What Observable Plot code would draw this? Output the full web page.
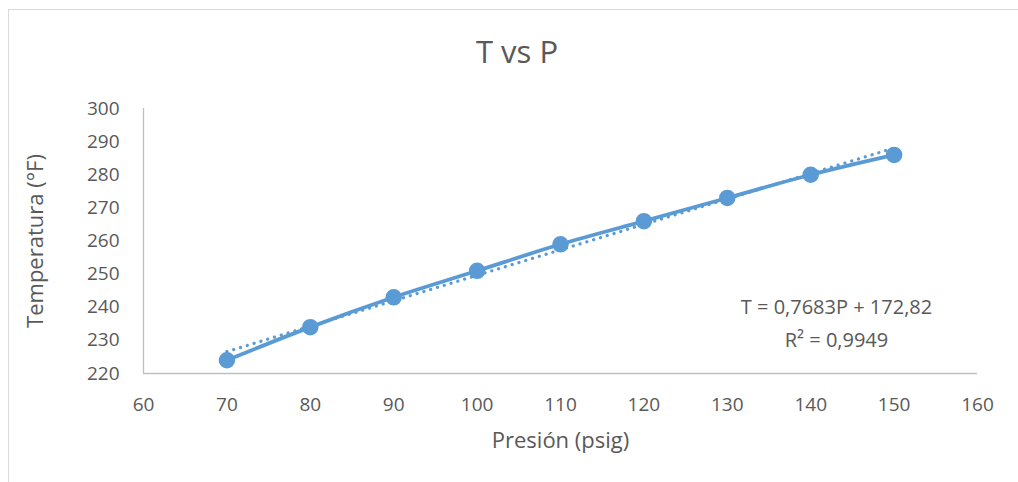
<!DOCTYPE html>
<html>
<head>
<meta charset="utf-8">
<script src="https://cdn.jsdelivr.net/npm/d3@7"></script>
<script src="https://cdn.jsdelivr.net/npm/@observablehq/plot@0.6"></script>
<style>
  html, body { margin: 0; padding: 0; background: #fff; }
  #wrap { position: relative; width: 1018px; height: 482px; overflow: hidden; font-family: "Open Sans", sans-serif; }
  #frame { position: absolute; left: 8px; top: 9px; width: 1030px; height: 500px; border: 1px solid #d9d9d9; box-sizing: border-box; }
  #title { position: absolute; left: 0; width: 1034px; top: 36px; line-height: 31px; text-align: center; font-size: 31px; color: #595959; }
  svg { position: absolute; left: 0; top: 0; }
</style>
</head>
<body>
<div id="wrap">
  <div id="frame"></div>
  <div id="title">T vs P</div>
</div>
<script>
const presion = [70, 80, 90, 100, 110, 120, 130, 140, 150];
const temperatura = [224, 234, 243, 251, 259, 266, 273, 280, 286];
const xTicks = [60, 70, 80, 90, 100, 110, 120, 130, 140, 150, 160];
const yTicks = [220, 230, 240, 250, 260, 270, 280, 290, 300];
const equationLines = ["T = 0,7683P + 172,82", "R² = 0,9949"];

const data = presion.map((p, i) => ({P: p, T: temperatura[i]}));
const color = "#5b9bd5";
const grey = "#595959";

const chart = Plot.plot({
  width: 1018,
  height: 482,
  marginLeft: 143,
  marginRight: 41,
  marginTop: 108,
  marginBottom: 109,
  style: { fontFamily: "Open Sans, sans-serif", fontSize: "19px", color: grey, background: "transparent" },
  x: { domain: [60, 160], ticks: xTicks, label: null },
  y: { domain: [220, 300], ticks: yTicks, label: null },
  marks: [
    Plot.ruleX([60], { stroke: "#bfbfbf", strokeWidth: 1.3 }),
    Plot.ruleY([220], { stroke: "#bfbfbf", strokeWidth: 1.3 }),
    Plot.axisX({ ticks: xTicks, tickSize: 0, tickPadding: 24, fontSize: 19, fill: grey, label: null }),
    Plot.axisY({ ticks: yTicks, tickSize: 0, tickPadding: 24, fontSize: 19, fill: grey, label: null }),
    Plot.text(["Presión (psig)"], { frameAnchor: "bottom", lineAnchor: "middle", dy: 67, fontSize: 22, fill: grey }),
    Plot.text(["Temperatura (°F)"], { frameAnchor: "left", textAnchor: "middle", dx: -108, rotate: -90, fontSize: 22, fill: grey }),
    Plot.linearRegressionY(data, { x: "P", y: "T", ci: 0, stroke: color, strokeWidth: 3.2, strokeDasharray: "0.1 7", strokeLinecap: "round" }),
    Plot.line(data, { x: "P", y: "T", stroke: color, strokeWidth: 3.75, curve: "catmull-rom" }),
    Plot.dot(data, { x: "P", y: "T", r: 7.5, fill: color, stroke: color }),
    Plot.text([equationLines.join("\n")], { frameAnchor: "top-left", dx: 693, dy: 211.5, lineAnchor: "middle", lineHeight: 1.65, textAnchor: "middle", fontSize: 20, fill: grey })
  ]
});
document.getElementById("wrap").appendChild(chart);
</script>
</body>
</html>
